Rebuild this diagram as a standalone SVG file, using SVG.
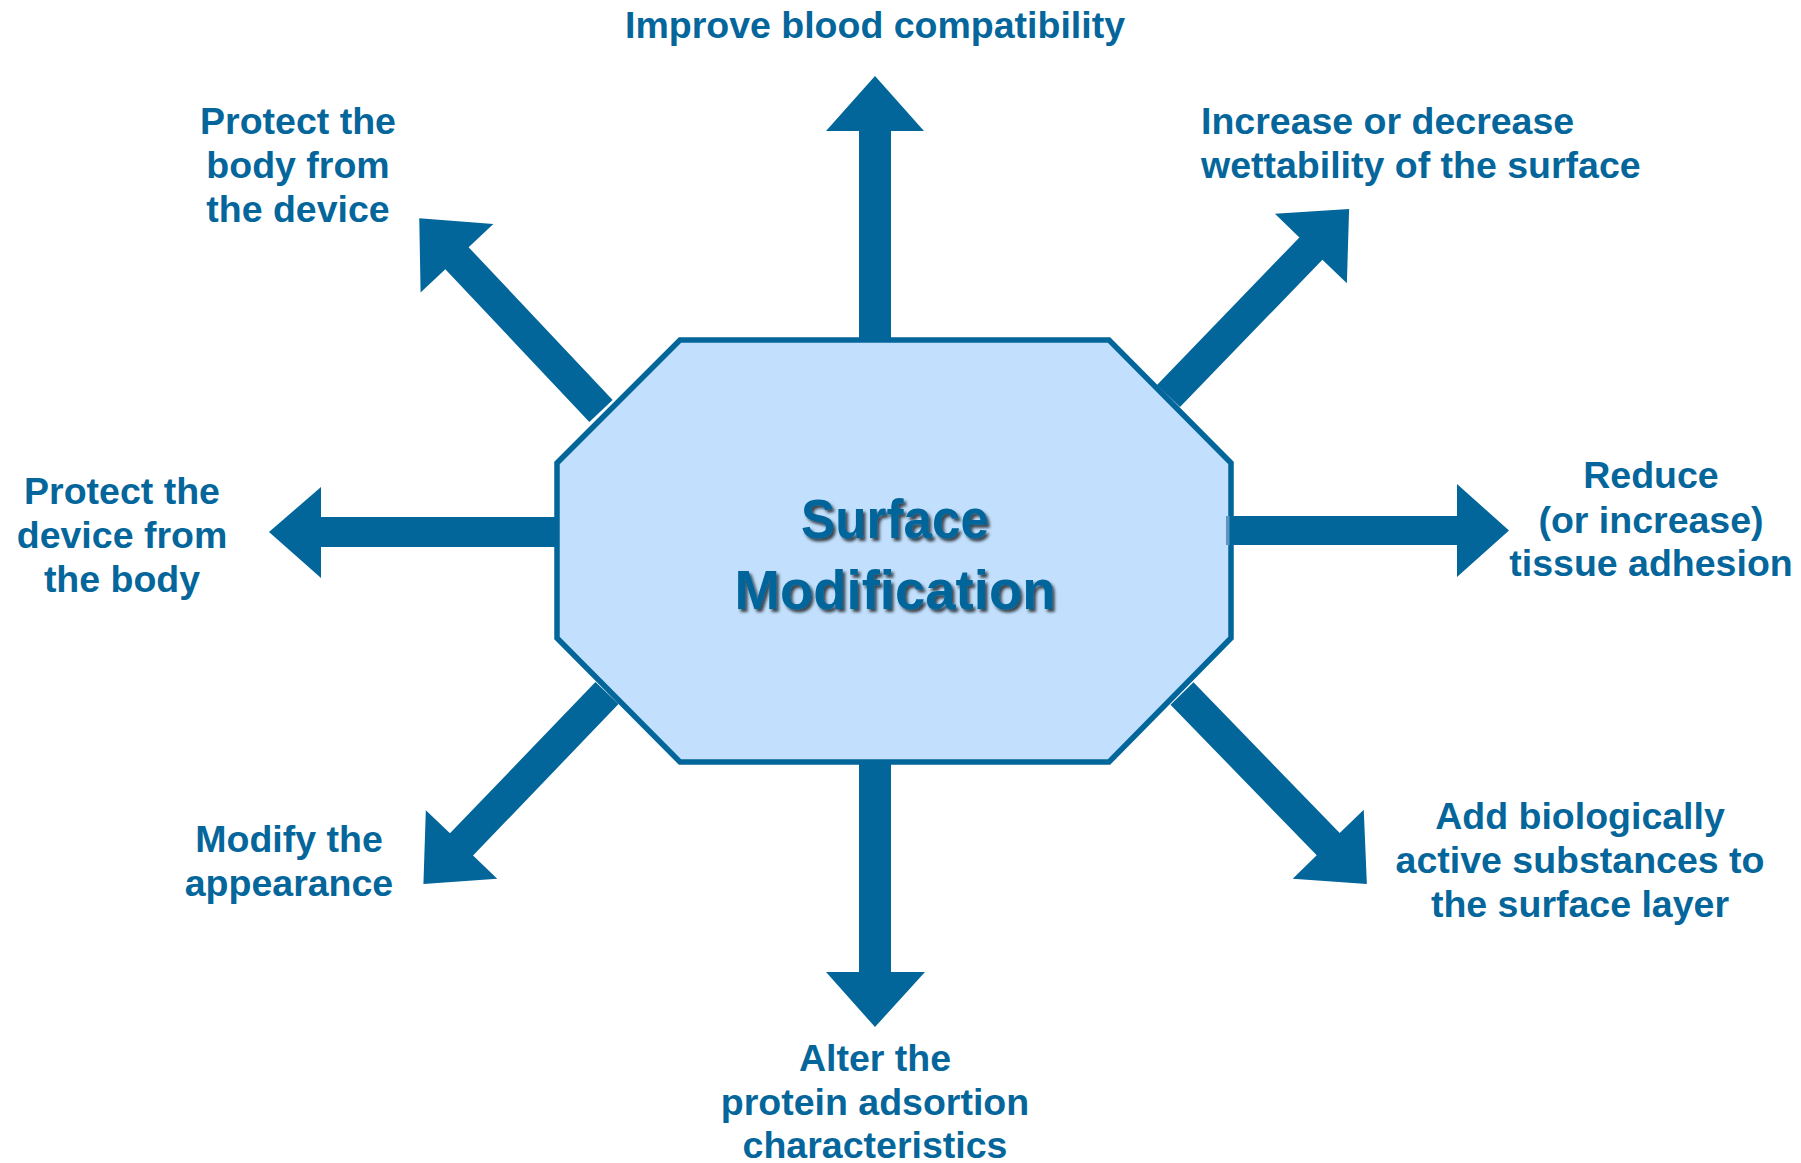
<svg xmlns="http://www.w3.org/2000/svg" width="1801" height="1163" viewBox="0 0 1801 1163">
  <style>
    .arrow { fill: #03669b; }
    .label { font-family: "Liberation Sans", Arial, sans-serif; font-weight: bold; font-size: 37.5px; fill: #05669b; }
    .mid { text-anchor: middle; }
    .core { fill: #c2e0fd; stroke: #03669b; stroke-width: 5.5; stroke-linejoin: miter; }
    .title { font-family: "Liberation Sans", Arial, sans-serif; font-weight: bold; font-size: 56px; fill: #02659a; text-anchor: middle; }
  </style>
  <defs>
    <filter id="shadow" x="-10%" y="-20%" width="130%" height="160%">
      <feDropShadow dx="2.5" dy="3" stdDeviation="1.6" flood-color="#000000" flood-opacity="0.7"/>
    </filter>
  </defs>

  <rect width="1801" height="1163" fill="#ffffff"/>

  <!-- block arrows radiating from the centre -->
  <g id="connectors">
    <!-- up -->
    <polygon class="arrow" points="859,341 859,131 826,131 875,76 924,131 891,131 891,341"/>
    <!-- down -->
    <polygon class="arrow" points="859,761 859,972 826,972 875,1027 925,972 891,972 891,761"/>
    <!-- left -->
    <polygon class="arrow" points="558,517 321,517 321,487 269,532 321,578 321,547 558,547"/>
    <!-- right -->
    <polygon class="arrow" points="1229,516 1457,516 1457,484 1509,530.5 1457,577 1457,545 1229,545"/>
    <!-- diagonals: tail at origin, pointing along +x -->
    <polygon class="arrow" points="0,-16 210,-16 210,-50 265,0 210,50 210,16 0,16" transform="translate(601,411) rotate(-133.3)"/>
    <polygon class="arrow" points="0,-16 205,-16 205,-50 260,0 205,50 205,16 0,16" transform="translate(1168.5,396) rotate(-46)"/>
    <polygon class="arrow" points="0,-16 210,-16 210,-49.5 265,0 210,49.5 210,16 0,16" transform="translate(607,693) rotate(133.85)"/>
    <polygon class="arrow" points="0,-16 210,-16 210,-49.5 265.5,0 210,49.5 210,16 0,16" transform="translate(1182,693.5) rotate(45.87)"/>
  </g>

  <!-- central octagon -->
  <g id="surface-modification">
    <polygon class="core" points="680,340 1109,340 1231,463 1231,638 1109,762 680,762 557,638 557,463"/>
    <rect x="1226" y="516" width="3.5" height="29" fill="#5a95c4"/>
    <g filter="url(#shadow)">
      <text class="title" x="895" y="538" textLength="188" lengthAdjust="spacingAndGlyphs">Surface</text>
      <text class="title" x="895" y="609" textLength="321" lengthAdjust="spacingAndGlyphs">Modification</text>
    </g>
  </g>

  <!-- outcome labels -->
  <g id="blood-compatibility">
    <text class="label mid" x="875" y="38">Improve blood compatibility</text>
  </g>
  <g id="wettability">
    <text class="label" x="1201" y="134">Increase or decrease</text>
    <text class="label" x="1201" y="178">wettability of the surface</text>
  </g>
  <g id="tissue-adhesion">
    <text class="label mid" x="1651" y="488">Reduce</text>
    <text class="label mid" x="1651" y="533">(or increase)</text>
    <text class="label mid" x="1651" y="576">tissue adhesion</text>
  </g>
  <g id="active-substances">
    <text class="label mid" x="1580" y="829">Add biologically</text>
    <text class="label mid" x="1580" y="873">active substances to</text>
    <text class="label mid" x="1580" y="917">the surface layer</text>
  </g>
  <g id="protein-adsorption">
    <text class="label mid" x="875" y="1071">Alter the</text>
    <text class="label mid" x="875" y="1115">protein adsortion</text>
    <text class="label mid" x="875" y="1158">characteristics</text>
  </g>
  <g id="appearance">
    <text class="label mid" x="289" y="852">Modify the</text>
    <text class="label mid" x="289" y="896">appearance</text>
  </g>
  <g id="protect-device">
    <text class="label mid" x="122" y="504">Protect the</text>
    <text class="label mid" x="122" y="548">device from</text>
    <text class="label mid" x="122" y="592">the body</text>
  </g>
  <g id="protect-body">
    <text class="label mid" x="298" y="134">Protect the</text>
    <text class="label mid" x="298" y="178">body from</text>
    <text class="label mid" x="298" y="222">the device</text>
  </g>
</svg>
